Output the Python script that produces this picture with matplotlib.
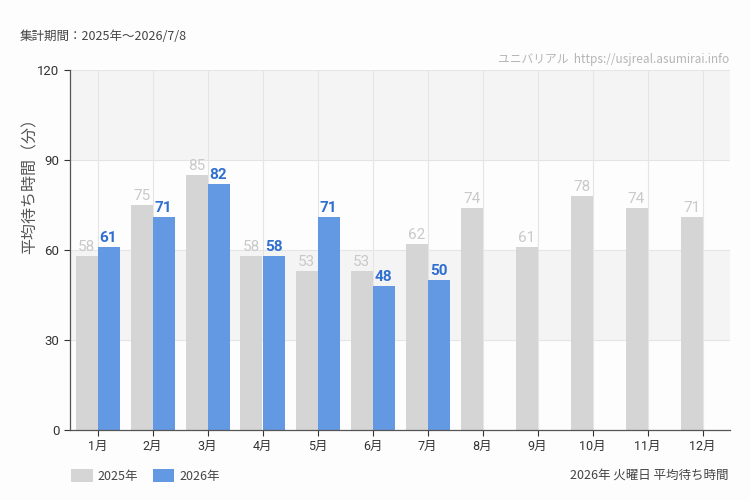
import matplotlib
matplotlib.use("Agg")
import matplotlib.pyplot as plt
import numpy as np

plt.rcParams['font.family'] = ['Noto Sans CJK JP', 'DejaVu Sans']

months = ["1月", "2月", "3月", "4月", "5月", "6月", "7月", "8月", "9月", "10月", "11月", "12月"]
y2025 = [58, 75, 85, 58, 53, 53, 62, 74, 61, 78, 74, 71]
y2026 = [61, 71, 82, 58, 71, 48, 50]
yticks = [0, 30, 60, 90, 120]

bg = "#fcfdfc"
gray = "#d4d5d4"
blue = "#6399e3"
narrow = ['Roboto', 'Noto Sans CJK JP', 'DejaVu Sans']

fig = plt.figure(figsize=(7.5, 5), dpi=100, facecolor=bg)
ax = fig.add_axes([70/750, 70/500, 660/750, 360/500])
ax.set_facecolor(bg)

x = np.arange(len(months))
w = 0.4
ax.set_xlim(-0.5, len(months) - 0.5)
ax.set_ylim(0, 120)

for lo, hi in [(30, 60), (90, 120)]:
    ax.axhspan(lo, hi, color="#f3f4f3", zorder=0, lw=0)
for yv in [30, 60, 90, 120]:
    ax.axhline(yv, color="#e4e5e4", lw=0.8, zorder=0.5)
for xv in x:
    ax.axvline(xv, color="#e4e5e4", lw=0.8, zorder=0.5)

b1 = ax.bar(x - w/2, y2025, width=w, color=gray, zorder=2, label="2025年")
x26 = x[:len(y2026)]
b2 = ax.bar(x26 + w/2, y2026, width=w, color=blue, zorder=2, label="2026年")

for xi, v in zip(x, y2025):
    ax.text(xi - w/2, v + 0.8, str(v), ha="center", va="bottom", color="#c8c9c8",
            fontsize=11, zorder=3, family=narrow)
for xi, v in zip(x26, y2026):
    ax.text(xi + w/2, v + 0.8, str(v), ha="center", va="bottom", color="#2f6fd0",
            fontsize=11, fontweight="bold", zorder=3, family=narrow)

ax.set_xticks(x)
ax.set_xticklabels(months, fontsize=9, color="#333333", family=narrow)
ax.set_yticks(yticks)
ax.set_yticklabels([str(t) for t in yticks], fontsize=9.5, color="#333333", family=narrow)
ax.tick_params(axis="both", length=4, width=0.8, color="#333333")
for s in ["top", "right"]:
    ax.spines[s].set_visible(False)
for s in ["left", "bottom"]:
    ax.spines[s].set_color("#555555")
    ax.spines[s].set_linewidth(0.9)

fig.text(30/750, 1 - 182/500, "平均待ち時間（分）", fontsize=11.5, color="#555555",
         rotation=90, ha="center", va="center")

fig.text(20/750, 1 - 37/500, "集計期間：2025年～2026/7/8", fontsize=9, color="#444444", va="center")
fig.text(729/750, 1 - 60/500, "ユニバリアル  https://usjreal.asumirai.info", fontsize=8.5,
         color="#b5b5b5", ha="right", va="center")
fig.text(729/750, 1 - 475/500, "2026年 火曜日 平均待ち時間", fontsize=9, color="#444444",
         ha="right", va="center")

leg = fig.legend(handles=[b1, b2], loc="center left", bbox_to_anchor=(60/750, 1 - 476/500),
                 ncol=2, frameon=False, fontsize=9, handlelength=1.7, handleheight=1.2,
                 columnspacing=1.2, handletextpad=0.4, labelcolor="#444444")

fig.savefig("out.png", dpi=100, facecolor=bg)
